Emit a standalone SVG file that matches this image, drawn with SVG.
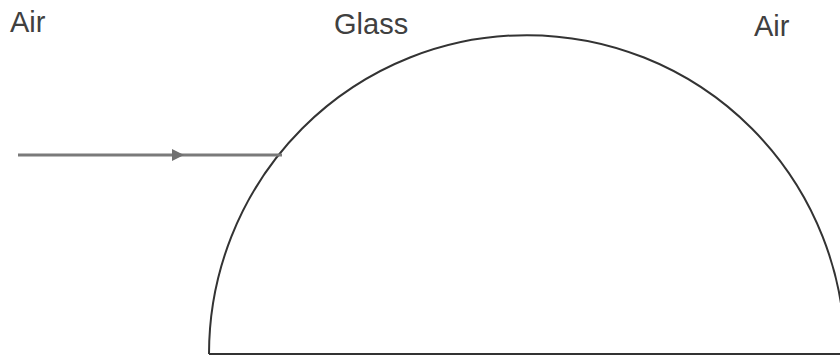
<svg xmlns="http://www.w3.org/2000/svg" width="840" height="356" viewBox="0 0 840 356">
<style>
.lbl{font-family:"Liberation Sans",Arial,sans-serif;font-size:29px;fill:#404040}
.ray{stroke:#7a7a7a;stroke-width:3;fill:none}
.edge{stroke:#333;stroke-width:2;fill:none}
</style>
<defs>
<marker id="arr" markerWidth="12" markerHeight="12" refX="6" refY="6" orient="auto" markerUnits="userSpaceOnUse">
<path d="M0,0 L12,6 L0,12 Z" fill="#707070"/>
</marker>
</defs>
<rect width="840" height="356" fill="#fff"/>
<g id="labels">
<text class="lbl" x="10" y="32">Air</text>
<text class="lbl" x="334" y="34">Glass</text>
<text class="lbl" x="754" y="36">Air</text>
</g>
<g id="glass">
<path class="edge" d="M209,354 A318,319 0 0 1 845,354"/>
<line class="edge" x1="209" y1="354" x2="840" y2="354"/>
</g>
<g id="connectors">
<path class="ray" d="M18,155 L178,155 L282,155" marker-mid="url(#arr)"/>
</g>
</svg>
